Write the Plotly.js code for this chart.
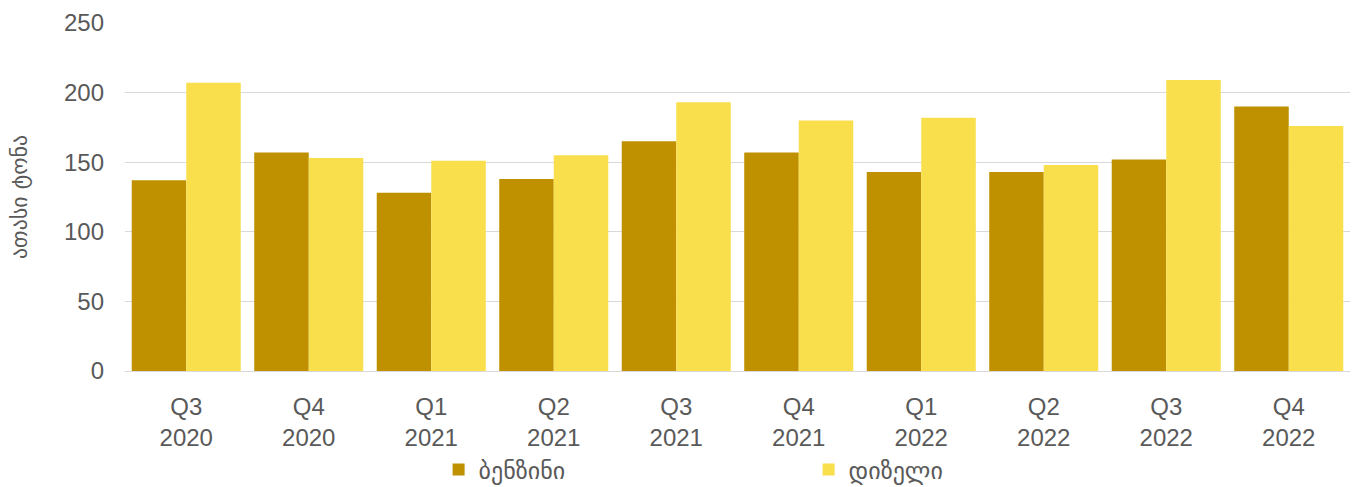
<!DOCTYPE html>
<html>
<head>
<meta charset="utf-8">
<script src="https://cdn.plot.ly/plotly-3.0.1.min.js"></script>
<style>html,body{margin:0;padding:0;background:#fff;}#chart{width:1357px;height:487px;}</style>
</head>
<body>
<div id="chart"></div>
<script>
const categories = ["Q3<br>2020","Q4<br>2020","Q1<br>2021","Q2<br>2021","Q3<br>2021","Q4<br>2021","Q1<br>2022","Q2<br>2022","Q3<br>2022","Q4<br>2022"];
const benzineValues = [137, 157, 128, 138, 165, 157, 143, 143, 152, 190];
const dieselValues = [207, 153, 151, 155, 193, 180, 182, 148, 209, 176];
const seriesNames = ["ბენზინი", "დიზელი"];
const yTitle = "ათასი ტონა";

const font = {family: "Liberation Sans, Arial, DejaVu Sans, sans-serif", color: "#595959", size: 24};

const traces = [
  {type: "bar", x: categories, y: benzineValues, name: seriesNames[0], marker: {color: "#bf9000"}},
  {type: "bar", x: categories, y: dieselValues, name: seriesNames[1], marker: {color: "#f9df4b"}}
];

const layout = {
  width: 1357, height: 487,
  margin: {l: 125, r: 7, t: 23, b: 116, autoexpand: false},
  paper_bgcolor: "#fff", plot_bgcolor: "#fff",
  font: font,
  barmode: "group",
  bargap: 0.11,
  bargroupgap: 0,
  showlegend: true,
  legend: {orientation: "h", x: 0.256, y: -0.284, xanchor: "left", yanchor: "middle",
           font: {family: "DejaVu Sans, sans-serif", size: 24, color: "#595959"},
           entrywidth: 325, entrywidthmode: "pixels", itemwidth: 30},
  xaxis: {automargin: false, showgrid: false, showline: true, linecolor: "#d9d9d9", linewidth: 1,
          ticks: "", ticklabelstandoff: 14, tickfont: {size: 24, color: "#595959"}},
  yaxis: {automargin: false, range: [0, 250], dtick: 50, showgrid: true, gridcolor: "#d9d9d9", gridwidth: 1,
          zeroline: false, showline: false, ticks: "", ticklen: 0, ticklabelstandoff: 20,
          tickfont: {size: 24, color: "#595959"},
          title: {text: yTitle, standoff: 30, font: {family: "DejaVu Sans, sans-serif", size: 22, color: "#595959"}}}
};

Plotly.newPlot("chart", traces, layout, {displayModeBar: false, staticPlot: true});
</script>
</body>
</html>
